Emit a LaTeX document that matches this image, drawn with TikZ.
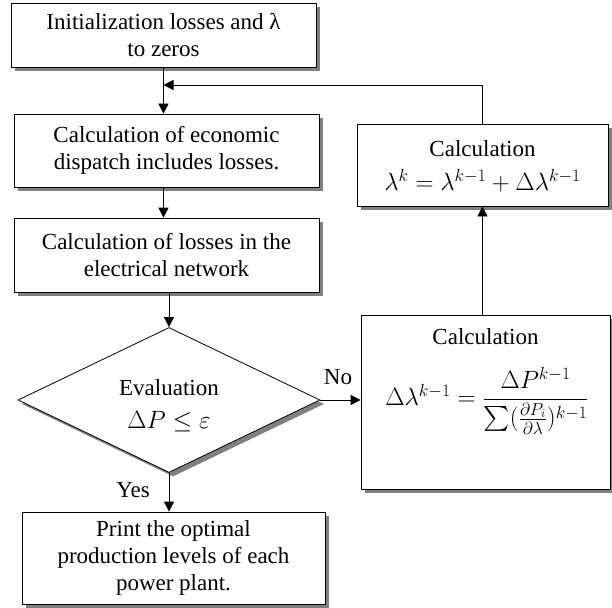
\RequirePackage{fix-cm}
\documentclass[tikz,border=0pt]{standalone}
\usepackage{amsmath}
\usepackage{fontspec}
\setmainfont{Liberation Serif}
\usetikzlibrary{shapes.geometric,shadows,arrows.meta}
\tikzset{
  shad/.style={drop shadow={shadow xshift=4pt, shadow yshift=-4pt, fill=black!50, opacity=1}},
  box/.style={draw, fill=white, line width=0.8pt, align=center, inner sep=0pt, shad,
              font=\fontsize{23}{27}\selectfont},
  dec/.style={diamond, draw, fill=white, line width=0.8pt, align=center, inner sep=0pt, shad,
              font=\fontsize{23}{27}\selectfont},
  lbl/.style={font=\fontsize{23}{27}\selectfont, inner sep=0pt},
  eqn/.style={font=\fontsize{25}{29}\selectfont, inner sep=0pt},
  arr/.style={line width=0.8pt, -{Triangle[length=10pt,width=10pt]}},
}
\begin{document}
\begin{tikzpicture}[x=1pt,y=-1pt]
\useasboundingbox[fill=white] (0,0) rectangle (612,607);
\node[box, minimum width=305pt, minimum height=64pt] (b1) at (163.5,35) {Initialization losses and λ\\to zeros};
\node[box, minimum width=305pt, minimum height=73pt] (b2) at (166.5,150.5) {Calculation of economic\\dispatch includes losses.};
\node[box, minimum width=305pt, minimum height=74pt] (b3) at (166.5,255) {Calculation of losses in the\\electrical network};
\node[dec, minimum width=302pt, minimum height=145pt] (dia) at (169,400) {};
\node[lbl] (diat) at (169,388) {Evaluation};
\node[eqn] (diam) at (169,422) {$\Delta P\le\varepsilon$};
\node[box, minimum width=303pt, minimum height=92pt] (b5) at (173.5,558) {Print the optimal\\production levels of each\\power plant.};
\node[box, minimum width=251pt, minimum height=82pt] (r1) at (482.5,165) {};
\node[lbl] (r1t) at (482.5,149) {Calculation};
\node[eqn] (r1m) at (482.5,181) {$\lambda^k=\lambda^{k-1}+\Delta\lambda^{k-1}$};
\node[box, minimum width=249pt, minimum height=174pt] (r2) at (485.5,402) {};
\node[lbl] (r2t) at (485.5,337) {Calculation};
\node[eqn] (r2m) at (487,401) {$\Delta\lambda^{k-1}=\dfrac{\Delta P^{k-1}}{\sum(\frac{\partial P_i}{\partial\lambda})^{k-1}}$};
\node[lbl] (no) at (338,377) {No};
\node[lbl] (yes) at (133,490) {Yes};
\coordinate (fb) at (163.5,85);
\draw[arr] (b1.south) -- (b1.south |- b2.north);
\draw[arr] (r1.north) |- (fb);
\draw[arr] (b1.south |- b2.south) -- (b1.south |- b3.north);
\draw[arr] (dia.north |- b3.south) -- (dia.north);
\draw[arr] (dia.south) -- (dia.south |- b5.north);
\draw[arr] (dia.east) -- (dia.east -| r2.west);
\draw[arr] (r1.south |- r2.north) -- (r1.south);
\end{tikzpicture}
\end{document}
